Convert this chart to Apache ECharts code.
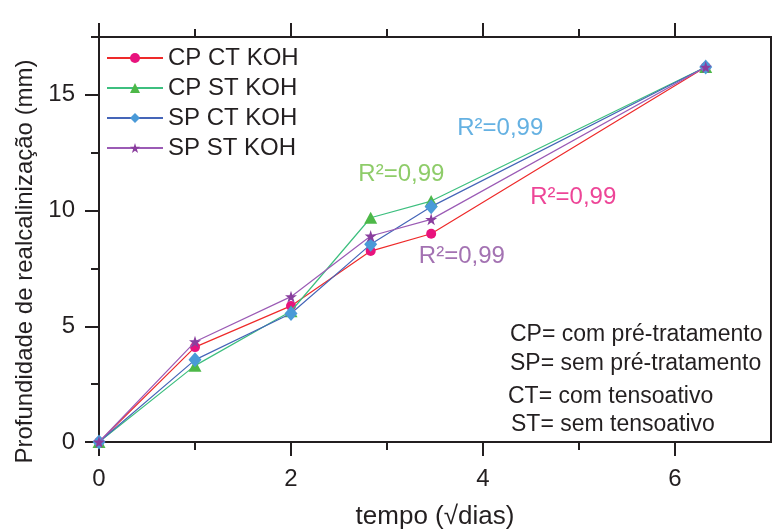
<!DOCTYPE html>
<html>
<head>
<meta charset="utf-8">
<script src="https://cdn.jsdelivr.net/npm/echarts@6/dist/echarts.min.js"></script>
<style>html,body{margin:0;padding:0;background:#fff}#c{width:772px;height:532px}</style>
</head>
<body>
<div id="c"></div>
<script>
// ---- data ----
const xValues = [0, 1, 2, 2.83, 3.46, 6.32];           // tempo (√dias)
const seriesNames = ['CP CT KOH', 'CP ST KOH', 'SP CT KOH', 'SP ST KOH'];
const cpCtKoh = [0, 4.1, 5.88, 8.25, 9.0, 16.2];
const cpStKoh = [0, 3.3, 5.65, 9.69, 10.41, 16.2];
const spCtKoh = [0, 3.55, 5.55, 8.54, 10.17, 16.2];
const spStKoh = [0, 4.33, 6.28, 8.9, 9.62, 16.2];
const xMajorTicks = [0, 2, 4, 6];
const xMinorTicks = [1, 3, 5];
const yMajorTicks = [0, 5, 10, 15];
const yMinorTicks = [2.5, 7.5, 12.5, 17.5];
const r2Labels = ['R²=0,99', 'R²=0,99', 'R²=0,99', 'R²=0,99'];
const r2X = [4.94, 3.15, 4.18, 3.78];
const r2Y = [10.55, 11.58, 13.56, 8.04];
const notes = ['CP= com pré-tratamento', 'SP= sem pré-tratamento', 'CT= com tensoativo', 'ST= sem tensoativo'];

// ---- styles ----
const INK = '#231f20';
const FONT = 'Liberation Sans, Arial, sans-serif';
const lineColors = ['#ee2a2a', '#3dbf7f', '#4565b8', '#9b5bb5'];
const markColors = ['#e8137d', '#4db848', '#4a9ad8', '#8a3e9e'];
const symbols = ['circle', 'triangle', 'diamond', 'path://M50,0 L61.8,36.2 L100,36.2 L69.1,58.8 L80.9,95.1 L50,72.7 L19.1,95.1 L30.9,58.8 L0,36.2 L38.2,36.2 Z'];
const symbolSizes = [10, [13, 12], [13, 15], 12];
const r2Colors = ['#e8177d', '#72bf44', '#3f9ddb', '#8c4f9f'];
const allSeries = [cpCtKoh, cpStKoh, spCtKoh, spStKoh];

const axLine = {show: true, onZero: false, lineStyle: {color: INK, width: 2}};
function xAx(pos, ticks, len, main) {
  return {
    type: 'value', min: 0, max: 7, position: pos,
    axisLine: main ? axLine : {show: false, onZero: false},
    axisTick: {show: true, inside: false, length: len, customValues: ticks, lineStyle: {color: INK, width: 2}},
    axisLabel: {show: false},
    splitLine: {show: false}
  };
}
function yAx(pos, ticks, len, main) {
  return {
    type: 'value', min: 0, max: 17.5, position: pos,
    axisLine: main ? axLine : {show: false, onZero: false},
    axisTick: {show: true, inside: false, length: len, customValues: ticks, lineStyle: {color: INK, width: 2}},
    axisLabel: {show: false},
    splitLine: {show: false}
  };
}

const xBottom = xAx('bottom', xMajorTicks, 14, true);
xBottom.axisLabel = {show: true, customValues: xMajorTicks, margin: 25, fontSize: 24, color: INK, fontFamily: FONT};
xBottom.name = 'tempo (√dias)';
xBottom.nameLocation = 'middle';
xBottom.nameGap = 62;
xBottom.nameTextStyle = {fontSize: 26, color: INK, fontFamily: FONT};

const yLeft = yAx('left', yMajorTicks, 14, true);
yLeft.axisLabel = {show: true, customValues: yMajorTicks, margin: 24, fontSize: 24, color: INK, fontFamily: FONT};
yLeft.name = 'Profundidade de realcalinização (mm)';
yLeft.nameLocation = 'middle';
yLeft.nameGap = 60;
yLeft.nameTextStyle = {fontSize: 24, color: INK, fontFamily: FONT, padding: [0, 44, 0, 0]};

const series = allSeries.map((vals, i) => ({
  name: seriesNames[i],
  type: 'line',
  xAxisIndex: 0, yAxisIndex: 0,
  data: xValues.map((x, j) => [x, vals[j]]),
  symbol: symbols[i],
  symbolSize: symbolSizes[i],
  showAllSymbol: true,
  lineStyle: {color: lineColors[i], width: 1.2},
  itemStyle: {color: markColors[i]},
  z: 2 + i,
  animation: false
}));
series.push({
  name: 'r2',
  type: 'scatter',
  xAxisIndex: 0, yAxisIndex: 0,
  symbolSize: 0,
  silent: true,
  data: r2Labels.map((t, i) => ({
    value: [r2X[i], r2Y[i]],
    label: {show: true, position: 'inside', formatter: t, color: r2Colors[i], fontSize: 24, fontFamily: FONT}
  })),
  z: 10,
  animation: false
});

const noteTop = [323, 352, 385, 413];
const noteLeft = [510, 510, 508, 511];

const chart = echarts.init(document.getElementById('c'), null, {renderer: 'canvas'});
chart.setOption({
  backgroundColor: '#fff',
  animation: false,
  grid: {left: 99, right: 1, top: 37, bottom: 90, containLabel: false, outerBoundsMode: 'none'},
  xAxis: [xBottom, xAx('bottom', xMinorTicks, 8, false), xAx('top', xMajorTicks, 14, true), xAx('top', xMinorTicks, 8, false)],
  yAxis: [yLeft, yAx('left', yMinorTicks, 8, false), yAx('right', yMajorTicks, 14, true), yAx('right', yMinorTicks, 8, false)],
  legend: {
    data: seriesNames,
    orient: 'vertical',
    left: 106, top: 46,
    padding: 0,
    itemWidth: 56, itemHeight: 12.5,
    itemGap: 6,
    textStyle: {fontSize: 24, color: INK, fontFamily: FONT}
  },
  series: series,
  graphic: notes.map((t, i) => ({
    type: 'text', left: noteLeft[i], top: noteTop[i],
    style: {text: t, fontSize: 23, fill: INK, font: '23px ' + FONT}
  }))
});
</script>
</body>
</html>
